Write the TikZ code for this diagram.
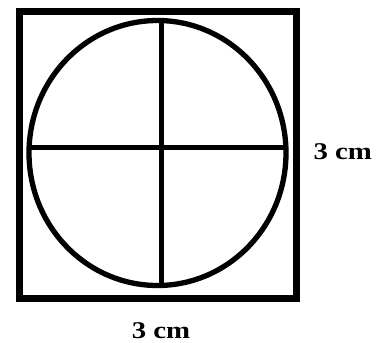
\documentclass[tikz,border=0pt]{standalone}
\usepackage{fontspec}
\setmainfont{Liberation Serif}
\begin{document}
\begin{tikzpicture}[x=1pt,y=-1pt,
  sqstyle/.style={draw=black,line width=7pt},
  circstyle/.style={draw=black,line width=5.3pt},
  crossstyle/.style={draw=black,line width=5pt},
  lbl/.style={font=\bfseries\fontsize{24}{24}\selectfont,inner sep=0pt,anchor=base}]
\useasboundingbox[fill=white] (0,0) rectangle (376,343);
\draw[sqstyle] (19,11.5) rectangle (296,298.5);
\draw[circstyle] (157.5,153) ellipse [x radius=128.5, y radius=132.5];
\coordinate (L) at (29.5,147);
\coordinate (R) at (288,147);
\coordinate (T) at (161,20);
\coordinate (B) at (161,286);
\draw[crossstyle] (L) -- (R);
\draw[crossstyle] (T) -- (B);
\node[lbl] (rlab) at (342.7,159) {\scalebox{1.2}[1]{3 cm}};
\node[lbl] (blab) at (161,338) {\scalebox{1.2}[1]{3 cm}};
\end{tikzpicture}
\end{document}
